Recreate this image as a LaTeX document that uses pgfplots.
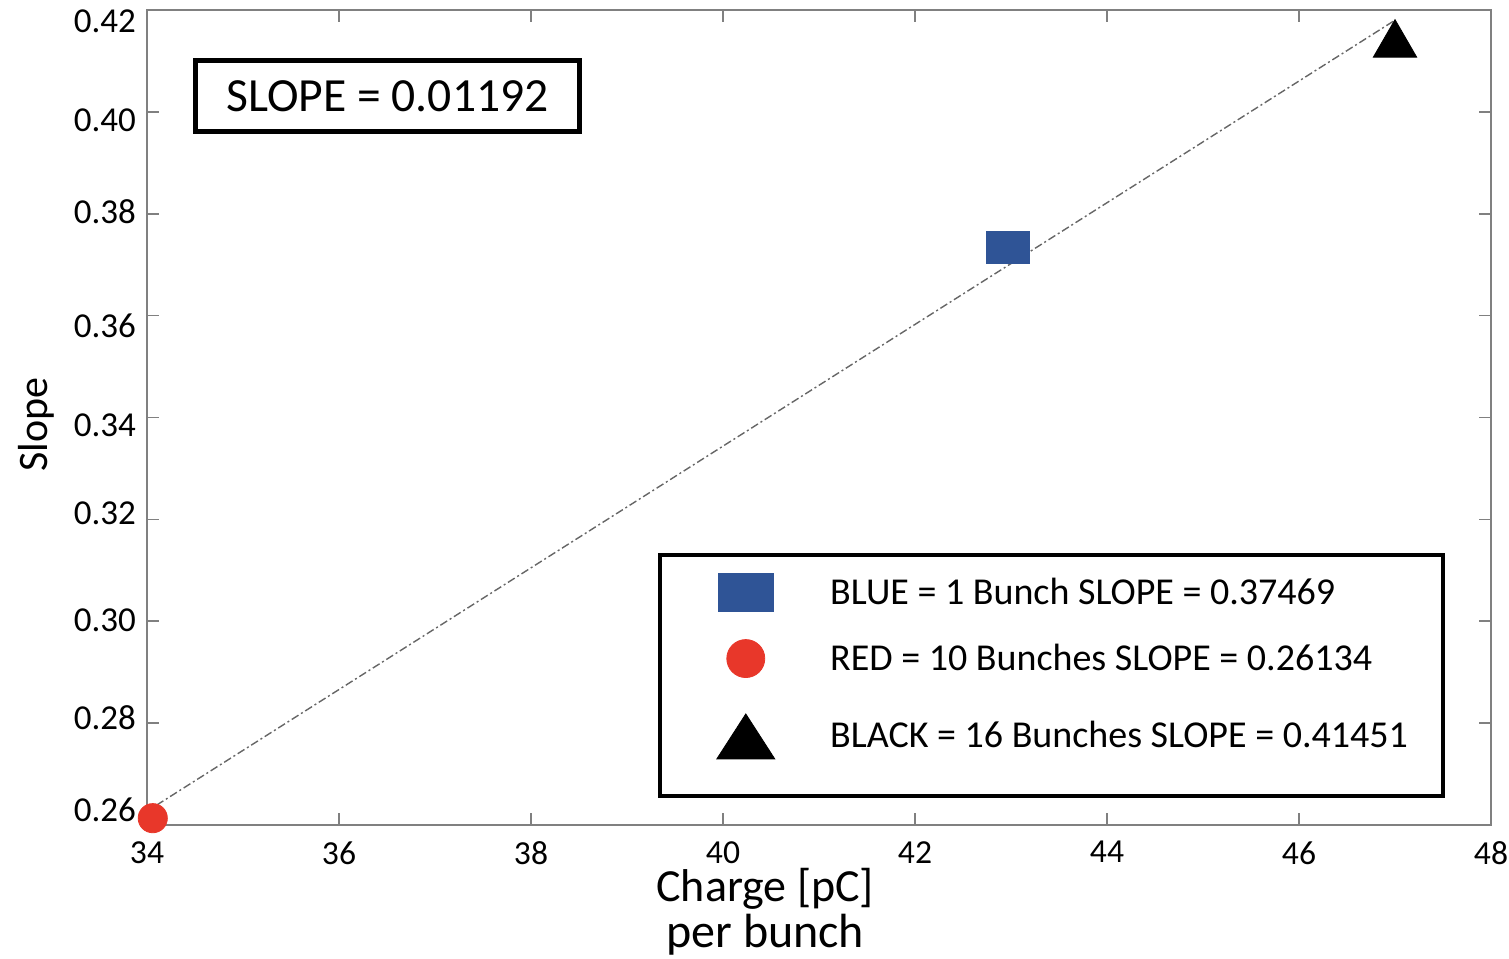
\documentclass[border=0pt]{standalone}
\usepackage{fontspec}
\setmainfont{Carlito}
\usepackage{pgfplots}
\pgfplotsset{compat=1.18}
\definecolor{mblue}{HTML}{2F5496}
\definecolor{mred}{HTML}{E8372A}
\definecolor{axgray}{HTML}{808080}
\definecolor{fitgray}{HTML}{666666}
\begin{document}
\begin{tikzpicture}
\useasboundingbox (0,0) rectangle (754.5pt,479pt);
\begin{axis}[
  at={(73.5pt,66.5pt)}, anchor=south west,
  scale only axis, width=672pt, height=407.5pt,
  xmin=34, xmax=48, ymin=0.26, ymax=0.42,
  xtick={34,36,38,40,42,44,46,48},
  ytick={0.26,0.28,0.30,0.32,0.34,0.36,0.38,0.40,0.42},
  yticklabels={},
  extra y ticks={0.26294,0.28101,0.30025,0.32125,0.33853,0.35796,0.38034,0.39840,0.41784},
  extra y tick labels={0.26,0.28,0.30,0.32,0.34,0.36,0.38,0.40,0.42},
  extra y tick style={major tick length=0pt, yticklabel style={xshift=-2pt}},
  /pgf/number format/assume math mode=true,
  tick label style={font=\fontsize{17.5}{21}\selectfont, black},
  xticklabel style={inner sep=0pt, yshift=-8pt, font=\fontsize{16.8}{20}\selectfont},
  tick align=inside,
  major tick length=6pt,
  every tick/.style={axgray, line width=0.8pt},
  axis line style={axgray, line width=1pt},
  xlabel={Charge [pC]\\{\fontsize{24}{23}\selectfont per bunch}},
  xlabel style={at={(axis description cs:0.46,-0.1497)}, anchor=base, align=center, font=\fontsize{23}{23}\selectfont, inner sep=0pt},
  ylabel={Slope},
  ylabel style={at={(axis description cs:-0.0685,0.491)}, anchor=south, font=\fontsize{21}{25}\selectfont, inner sep=0pt},
  clip=false,
  legend style={at={(axis cs:39.927,0.30948)}, anchor=north west, draw=none, fill=none, inner sep=0pt, font=\fontsize{19}{23}\selectfont, row sep=13.5pt, column sep=27.5pt, nodes={inner sep=0pt}},
  legend cell align=left,
]
\addplot[fitgray, line width=0.7pt, dash pattern=on 4pt off 1.5pt on 1pt off 1.5pt, forget plot] coordinates {(34.1,0.2639) (47.0,0.4180)};
\addplot[mred, only marks, mark=*, mark size=7.3pt, mark options={fill=mred, draw=none}, forget plot] coordinates {(34.06,0.26134)};
\addplot[mblue, only marks, mark=square*, mark size=8pt, mark options={fill=mblue, draw=none, xscale=1.34}, forget plot] coordinates {(42.97,0.3733)};
\addplot[black, only marks, mark=triangle*, mark size=12.5pt, mark options={fill=black, draw=black}, forget plot] coordinates {(47.0,0.4132)};

\addlegendimage{legend image code/.code={\fill[mblue] (-13.75pt,-9.5pt) rectangle (13.75pt,9.5pt);}}
\addlegendentry{BLUE = 1 Bunch SLOPE = 0.37469}
\addlegendimage{legend image code/.code={\fill[mred] (0pt,0pt) circle[radius=9.5pt];}}
\addlegendentry{RED = 10 Bunches SLOPE = 0.26134}
\addlegendimage{legend image code/.code={\path[draw=none, fill=none] (-1pt,15.5pt) rectangle (1pt,15.5pt); \fill[black] (0pt,11pt) -- (14.5pt,-11.5pt) -- (-14.5pt,-11.5pt) -- cycle;}}
\addlegendentry{BLACK = 16 Bunches SLOPE = 0.41451}

\draw[black, line width=2pt] (axis cs:39.344,0.26569) rectangle (axis cs:47.5,0.31301);
\node[draw=black, line width=2.5pt, minimum width=192pt, minimum height=35.5pt, inner sep=0pt, font=\fontsize{23.8}{28}\selectfont] at (axis cs:36.505,0.40312) {SLOPE = 0.01192};
\end{axis}
\end{tikzpicture}
\end{document}
